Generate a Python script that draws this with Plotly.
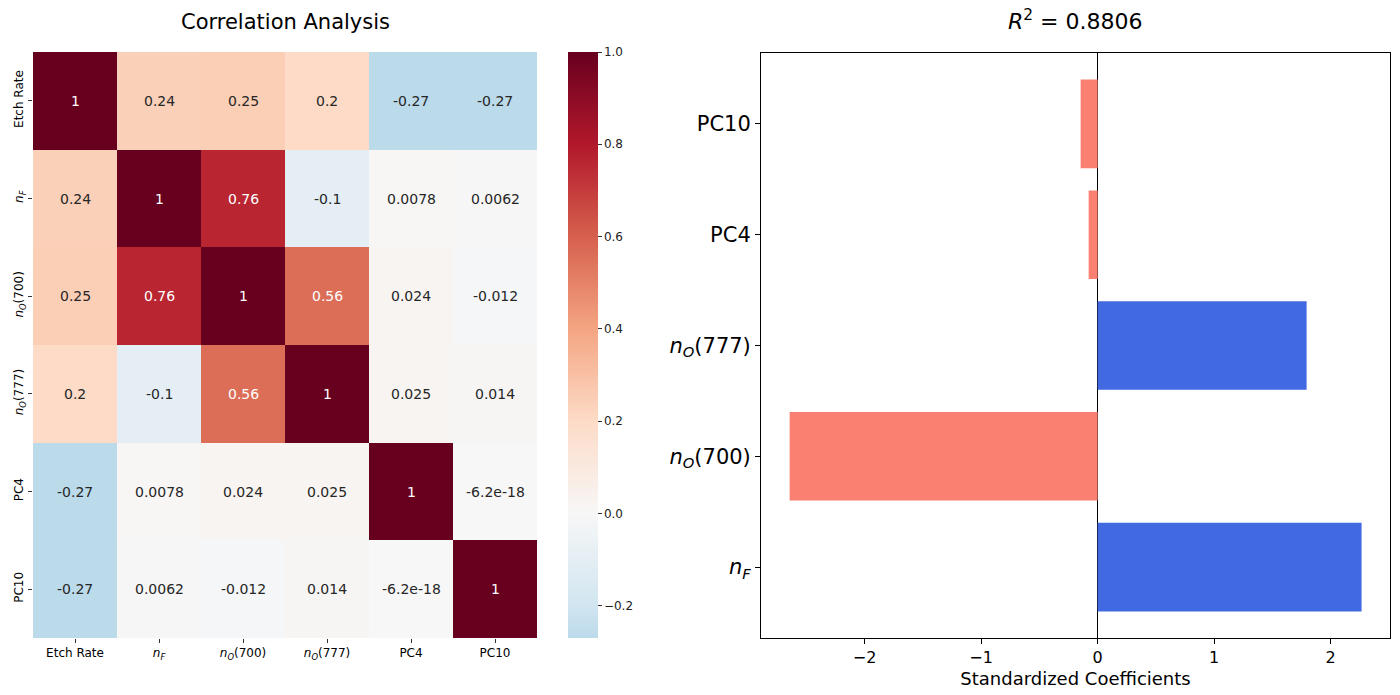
import plotly.graph_objects as go

# ---- data ----
labels = ["Etch Rate", "<i>n</i><sub><i>F</i></sub>", "<i>n</i><sub><i>O</i></sub>(700)",
          "<i>n</i><sub><i>O</i></sub>(777)", "PC4", "PC10"]
corr = [
    [1.0, 0.24, 0.25, 0.2, -0.27, -0.27],
    [0.24, 1.0, 0.76, -0.1, 0.0078, 0.0062],
    [0.25, 0.76, 1.0, 0.56, 0.024, -0.012],
    [0.2, -0.1, 0.56, 1.0, 0.025, 0.014],
    [-0.27, 0.0078, 0.024, 0.025, 1.0, -6.2e-18],
    [-0.27, 0.0062, -0.012, 0.014, -6.2e-18, 1.0],
]
coef_names = ["<i>n</i><sub><i>F</i></sub>", "<i>n</i><sub><i>O</i></sub>(700)",
              "<i>n</i><sub><i>O</i></sub>(777)", "PC4", "PC10"]
coef_values = [2.266, -2.644, 1.794, -0.077, -0.146]
r2 = 0.8806
cbar_ticks = [-0.2, 0.0, 0.2, 0.4, 0.6, 0.8, 1.0]

FONT = "DejaVu Sans"
zmin, zmax = -0.27, 1.0

# RdBu_r centred at 0 (seaborn center=0), truncated to [zmin, zmax]
rdbu_r = [(-1.0, "#053061"), (-0.8, "#2166ac"), (-0.6, "#4393c3"), (-0.4, "#92c5de"),
          (-0.2, "#d1e5f0"), (0.0, "#f7f7f7"), (0.2, "#fddbc7"), (0.4, "#f4a582"),
          (0.6, "#d6604d"), (0.8, "#b2182b"), (1.0, "#67001f")]

def hex2rgb(h):
    return tuple(int(h[i:i + 2], 16) for i in (1, 3, 5))

def interp(v):
    for (v0, c0), (v1, c1) in zip(rdbu_r[:-1], rdbu_r[1:]):
        if v0 <= v <= v1:
            t = (v - v0) / (v1 - v0)
            a, b = hex2rgb(c0), hex2rgb(c1)
            return tuple(a[i] + t * (b[i] - a[i]) for i in range(3))
    return hex2rgb(rdbu_r[-1][1])

stops = [zmin] + [v for v, _ in rdbu_r if zmin < v < zmax] + [zmax]
colorscale = []
for v in stops:
    r, g, b = interp(v)
    colorscale.append([(v - zmin) / (zmax - zmin), f"rgb({r:.0f},{g:.0f},{b:.0f})"])

def lum(rgb):
    vals = []
    for c in rgb:
        c = c / 255
        vals.append(c / 12.92 if c <= 0.03928 else ((c + 0.055) / 1.055) ** 2.4)
    return 0.2126 * vals[0] + 0.7152 * vals[1] + 0.0722 * vals[2]

fig = go.Figure()

fig.add_trace(go.Heatmap(
    z=corr, x=labels, y=labels, zmin=zmin, zmax=zmax, colorscale=colorscale,
    xaxis="x", yaxis="y", hoverinfo="skip",
    colorbar=dict(x=568 / 1400, xanchor="left", xref="paper", xpad=0, ypad=0,
                  thickness=30, thicknessmode="pixels",
                  len=(638 - 52) / 695, lenmode="fraction", y=1 - 638 / 695, yanchor="bottom",
                  outlinewidth=0, ticks="outside", ticklen=4, tickwidth=1, tickcolor="#333",
                  tickvals=cbar_ticks, ticktext=[f"{t:.1f}".replace("-", "\u2212") for t in cbar_ticks],
                  tickfont=dict(family=FONT, size=12, color="#222")),
))

annotations = []
for i, row in enumerate(corr):
    for j, v in enumerate(row):
        col = "#262626" if lum(interp(v)) > 0.408 else "white"
        annotations.append(dict(x=labels[j], y=labels[i], xref="x", yref="y", text=f"{v:.2g}",
                                showarrow=False, font=dict(family=FONT, size=14, color=col)))

bar_colors = ["#4169e1" if v > 0 else "#fa8072" for v in coef_values]
fig.add_trace(go.Bar(x=coef_values, y=coef_names, orientation="h", marker=dict(color=bar_colors, line=dict(width=0)),
                     width=0.8, xaxis="x2", yaxis="y2", hoverinfo="skip"))

annotations.append(dict(x=(33 + 537) / 2 / 1400, y=1 - 22 / 695, xref="paper", yref="paper",
                        xanchor="center", yanchor="middle",
                        text="Correlation Analysis", showarrow=False,
                        font=dict(family=FONT, size=21, color="black")))
annotations.append(dict(x=(761 + 1390) / 2 / 1400, y=1 - 20 / 695, xref="paper", yref="paper",
                        xanchor="center", yanchor="middle",
                        text=f"<i>R</i><sup>2</sup> = {r2}", showarrow=False,
                        font=dict(family=FONT, size=22, color="black")))

fig.update_layout(
    width=1400, height=695, margin=dict(l=0, r=0, t=0, b=0),
    paper_bgcolor="white", plot_bgcolor="white", showlegend=False,
    font=dict(family=FONT, color="black"),
    annotations=annotations,
    xaxis=dict(domain=[33 / 1400, 537 / 1400], anchor="y", ticks="outside", ticklen=4, tickcolor="#333",
               showgrid=False, zeroline=False, tickfont=dict(family=FONT, size=12, color="black"),
               showline=False),
    yaxis=dict(domain=[1 - 638 / 695, 1 - 52 / 695], anchor="x", autorange="reversed", ticks="outside",
               ticklen=4, tickcolor="#333", showgrid=False, zeroline=False, tickangle=-90,
               tickfont=dict(family=FONT, size=12, color="black")),
    xaxis2=dict(domain=[761 / 1400, 1390 / 1400], anchor="y2", range=[-2.89, 2.51],
                tickvals=[-2, -1, 0, 1, 2], ticks="outside", ticklen=5, tickcolor="black",
                showgrid=False, zeroline=True, zerolinecolor="black", zerolinewidth=1.3,
                showline=True, linecolor="black", linewidth=1, mirror=True,
                tickfont=dict(family=FONT, size=16, color="black"),
                title=dict(text="Standardized Coefficients", font=dict(family=FONT, size=18, color="black"),
                           standoff=6)),
    yaxis2=dict(domain=[1 - 638 / 695, 1 - 53 / 695], anchor="x2", range=[-0.64, 4.64],
                ticks="outside", ticklen=5, tickcolor="black", showgrid=False,
                showline=True, linecolor="black", linewidth=1, mirror=True,
                tickfont=dict(family=FONT, size=21, color="black")),
)

fig.write_html("out.html")
